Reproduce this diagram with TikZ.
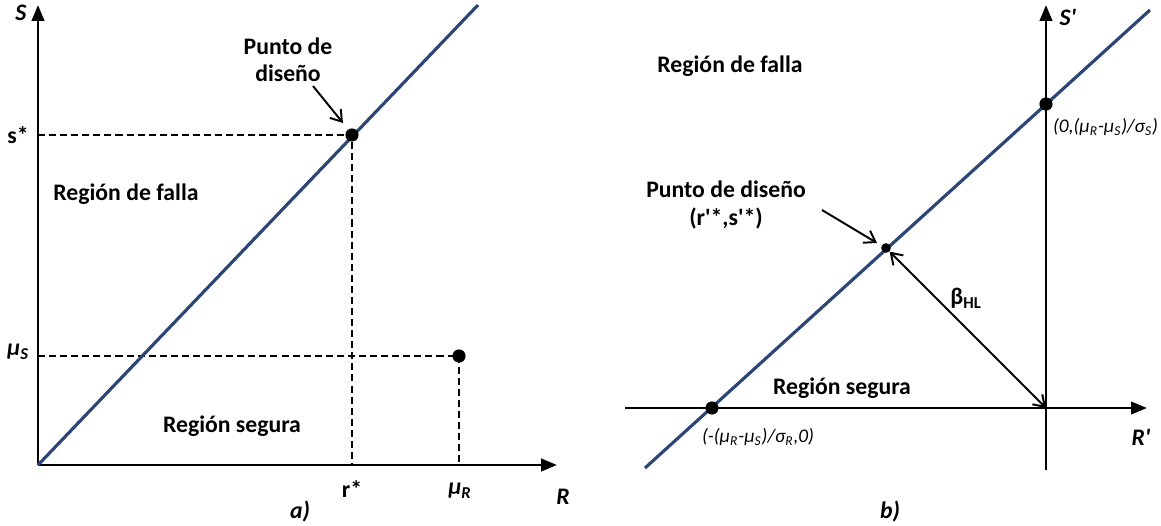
\documentclass[tikz,border=0pt]{standalone}
\usepackage{fontspec}
\setmainfont{Carlito}
\usetikzlibrary{arrows.meta}
\definecolor{lineblue}{RGB}{44,70,118}
\begin{document}
\begin{tikzpicture}[x=0.02cm,y=-0.02cm,
  axis/.style={line width=1.6pt,-{Triangle[length=9pt,width=7pt]}},
  limit/.style={line width=1.8pt,lineblue},
  guide/.style={line width=1.3pt,dash pattern=on 4pt off 2.3pt},
  callout/.style={line width=1.1pt,-{Straight Barb[length=6pt,width=8pt]}},
  dot/.style={circle,fill=black,inner sep=0pt,minimum size=#1},
  dot/.default=7.5pt,
  lbl/.style={font=\fontsize{13.5}{15.5}\selectfont\bfseries,inner sep=1pt},
  ital/.style={font=\fontsize{13.5}{15.5}\selectfont\bfseries\itshape,inner sep=1pt},
  small/.style={font=\fontsize{11}{13}\selectfont\itshape,inner sep=1pt}]
\useasboundingbox (0,0) rectangle (1161,525);
% ---------- panel a ----------
\coordinate (Oa) at (38,465);
\coordinate (Sa) at (38,5);
\coordinate (Ra) at (557,465);
\coordinate (La0) at (38,465);
\coordinate (La1) at (478,5);
\coordinate (sS) at (38,135);
\coordinate (rS) at (352,465);
\coordinate (muSy) at (38,356);
\coordinate (muRx) at (459,465);
\draw[guide] (sS) -- (352,135) -- (rS);
\draw[guide] (muSy) -- (459,356) -- (muRx);
\draw[axis] (Oa) -- (Sa);
\draw[axis] (Oa) -- (Ra);
\draw[limit] (La0) -- (La1);
\node[dot] (dpa) at (352,135) {};
\node[dot] (mua) at (459,356) {};
\node[ital] (Sla) at (21,13) {S};
\node[ital] (Rla) at (563,497) {R};
\node[lbl] (sst) at (18,135) {s*};
\node[ital] (mus) at (18,352) {μ\textsubscript{S}};
\node[lbl] (rst) at (352,489) {r*};
\node[ital] (mur) at (460,491) {μ\textsubscript{R}};
\node[ital] (a) at (300,511) {a)};
\node[lbl,align=center] (pda) at (288,60) {Punto de\\diseño};
\coordinate (pdaT) at (313,86);
\draw[callout] (pdaT) -- (343,123);
\node[lbl] (rfa) at (126,194) {Región de falla};
\node[lbl] (rsa) at (232,426) {Región segura};
% ---------- panel b ----------
\coordinate (Ob) at (1046,408);
\coordinate (Sb0) at (1046,470);
\coordinate (Sb) at (1046,5);
\coordinate (Rb0) at (625,408);
\coordinate (Rb) at (1147,408);
\coordinate (Lb0) at (645,468);
\coordinate (Lb1) at (1150,10);
\draw[axis] (Sb0) -- (Sb);
\draw[axis] (Rb0) -- (Rb);
\draw[limit] (Lb0) -- (Lb1);
\node[dot] (xint) at (712,408) {};
\node[dot] (yint) at (1046,104) {};
\node[dot=5.5pt] (dpb) at (886,248) {};
\node[ital] (Slb) at (1068,17) {S\textquotesingle};
\node[ital] (Rlb) at (1141,437) {R\textquotesingle};
\node[small,anchor=west] (yl) at (1051,127) {(0,(μ\textsubscript{R}-μ\textsubscript{S})/σ\textsubscript{S})};
\node[small,anchor=west] (xl) at (700,437) {(-(μ\textsubscript{R}-μ\textsubscript{S})/σ\textsubscript{R},0)};
\node[lbl] (rfb) at (730,66) {Región de falla};
\node[lbl] (rsb) at (842,388) {Región segura};
\node[lbl,align=center] (pdb) at (726,205) {Punto de diseño\\(r\textquotesingle*,s\textquotesingle*)};
\coordinate (pdbT) at (822,210);
\draw[callout] (pdbT) -- (877,243);
\draw[callout,{Straight Barb[length=6pt,width=8pt]}-{Straight Barb[length=6pt,width=8pt]}] (dpb) -- (Ob);
\node[lbl] (beta) at (966,298) {β\textsubscript{HL}};
\node[ital] (b) at (890,511) {b)};
\end{tikzpicture}
\end{document}
